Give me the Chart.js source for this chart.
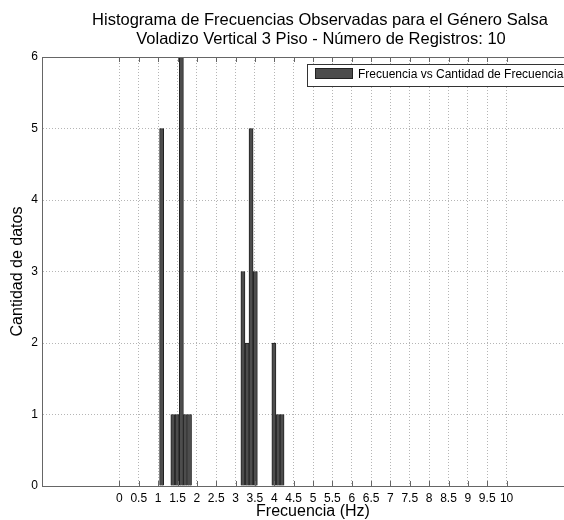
<!DOCTYPE html>
<html lang="es">
<head>
<meta charset="UTF-8">
<title>Histograma de Frecuencias Observadas</title>
<script src="https://cdn.jsdelivr.net/npm/chart.js"></script>
<style>
    html, body { margin: 0; padding: 0; background: #fff; overflow: hidden; }
    #wrap { width: 564px; height: 520px; overflow: hidden; }
    canvas { display: block; }
</style>
</head>
<body>
<div id="wrap"><canvas id="histo" width="600" height="520"></canvas></div>
<script>
    // datos
    const frecuencias = [1.09, 1.38, 1.49, 1.60, 1.70, 1.81, 3.19, 3.30, 3.40, 3.51, 3.99, 4.10, 4.20];
    const cantidades  = [5, 1, 1, 6, 1, 1, 3, 2, 5, 3, 2, 1, 1];
    const xTicks = [0, 0.5, 1, 1.5, 2, 2.5, 3, 3.5, 4, 4.5, 5, 5.5, 6, 6.5, 7, 7.5, 8, 8.5, 9, 9.5, 10];
    const yTicks = [0, 1, 2, 3, 4, 5, 6];
    const titulo = [
        "Histograma de Frecuencias Observadas para el Género Salsa",
        "Voladizo Vertical 3 Piso - Número de Registros: 10"
    ];
    const leyenda = "Frecuencia vs Cantidad de Frecuencias";

    const FUENTE = "'Liberation Sans', Arial, sans-serif";
    const colorBarra = "#4d4d4d";

    // titulo, caja superior, marcas internas y leyenda al estilo MATLAB
    const adornos = {
        id: "adornos",
        afterDraw(chart) {
            const ctx = chart.ctx;
            const area = chart.chartArea;
            const xs = chart.scales.x;
            ctx.save();

            ctx.fillStyle = "#000";
            ctx.font = "16.5px " + FUENTE;
            ctx.textAlign = "center";
            ctx.textBaseline = "middle";
            ctx.fillText(titulo[0], 320, 20);
            ctx.fillText(titulo[1], 321, 39);

            ctx.strokeStyle = "#666";
            ctx.lineWidth = 1;
            ctx.beginPath();
            ctx.moveTo(area.left, area.top + 0.5);
            ctx.lineTo(area.right, area.top + 0.5);
            ctx.moveTo(area.right - 0.5, area.top);
            ctx.lineTo(area.right - 0.5, area.bottom);
            xTicks.forEach(v => {
                const px = Math.round(xs.getPixelForValue(v)) + 0.5;
                ctx.moveTo(px, area.bottom);
                ctx.lineTo(px, area.bottom - 5);
                ctx.moveTo(px, area.top);
                ctx.lineTo(px, area.top + 5);
            });
            ctx.stroke();

            // leyenda
            ctx.fillStyle = "#fff";
            ctx.fillRect(307, 64, 300, 22);
            ctx.strokeStyle = "#333";
            ctx.strokeRect(307.5, 64.5, 300, 22);
            ctx.fillStyle = colorBarra;
            ctx.fillRect(315, 68, 38, 11);
            ctx.strokeStyle = "#222";
            ctx.strokeRect(315.5, 68.5, 37, 10);
            ctx.fillStyle = "#000";
            ctx.font = "12px " + FUENTE;
            ctx.textAlign = "left";
            ctx.fillText(leyenda, 358, 75);

            ctx.restore();
        }
    };

    new Chart(document.getElementById("histo"), {
        type: "bar",
        data: {
            datasets: [{
                label: leyenda,
                data: frecuencias.map((f, i) => ({ x: f, y: cantidades[i] })),
                backgroundColor: colorBarra,
                borderColor: "#222",
                borderWidth: 1,
                barThickness: 4.1,
                grouped: false
            }]
        },
        options: {
            responsive: false,
            animation: false,
            devicePixelRatio: 1,
            layout: { padding: { top: 57, right: 16, left: 0, bottom: 0 } },
            plugins: {
                legend: { display: false },
                title: { display: false },
                tooltip: { enabled: false }
            },
            scales: {
                x: {
                    type: "linear",
                    min: -2,
                    max: 12,
                    offset: false,
                    afterBuildTicks(scale) {
                        scale.ticks = xTicks.map(v => ({ value: v }));
                    },
                    afterFit(scale) { scale.height = 34; },
                    ticks: {
                        autoSkip: false,
                        maxRotation: 0,
                        padding: 5,
                        color: "#000",
                        font: { family: FUENTE, size: 12 },
                        callback: v => String(v)
                    },
                    grid: { color: "#b5b5b5", drawTicks: false, offset: false },
                    border: { color: "#666", dash: [1, 2] },
                    title: {
                        display: true,
                        text: "Frecuencia (Hz)",
                        color: "#000",
                        font: { family: FUENTE, size: 16, lineHeight: 1.0 },
                        padding: { top: 0, bottom: 0 }
                    }
                },
                y: {
                    min: 0,
                    max: 6,
                    afterBuildTicks(scale) {
                        scale.ticks = yTicks.map(v => ({ value: v }));
                    },
                    afterFit(scale) { scale.width = 42; },
                    ticks: {
                        padding: 4,
                        color: "#000",
                        font: { family: FUENTE, size: 12 }
                    },
                    grid: { color: "#b5b5b5", drawTicks: false },
                    border: { color: "#666", dash: [1, 2] },
                    title: {
                        display: true,
                        text: "Cantidad de datos",
                        color: "#000",
                        font: { family: FUENTE, size: 16 },
                        padding: { top: 8, bottom: 0 }
                    }
                }
            }
        },
        plugins: [adornos]
    });
</script>
</body>
</html>
